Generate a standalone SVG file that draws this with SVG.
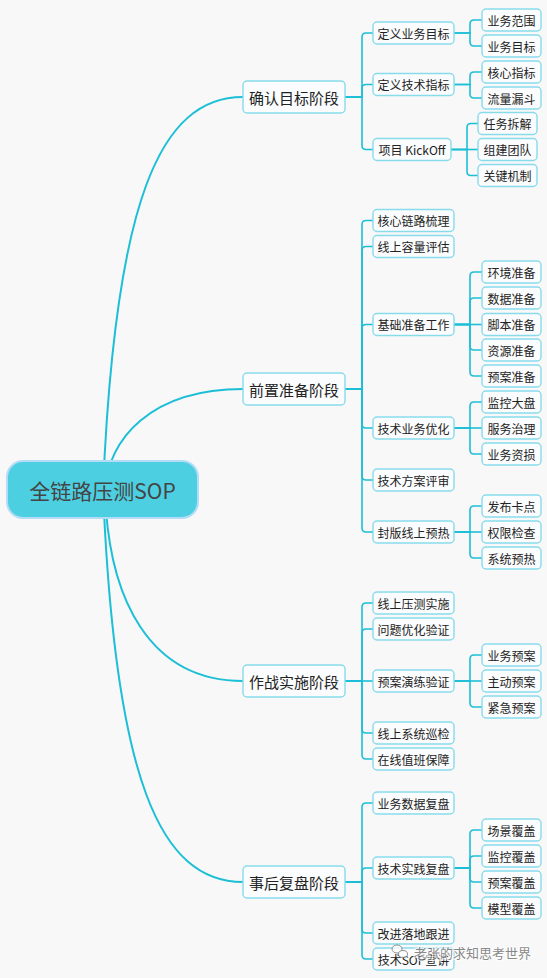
<svg xmlns="http://www.w3.org/2000/svg" width="547" height="978" viewBox="0 0 547 978">
<style>
.bg{fill:#f8f8f8}
.c{fill:none;stroke:#1cbfd6;stroke-width:1.6;stroke-linejoin:round}
.cr{fill:none;stroke:#1cbfd6;stroke-width:2}
.n1 rect,.n2 rect,.n3 rect{fill:#fbfcfd;stroke:#88dbeb;stroke-width:1.4}
.n1 text,.n2 text,.n3 text{font-family:"Noto Sans CJK SC","Noto Sans",sans-serif;fill:#222;text-anchor:middle;dominant-baseline:central}
.n1 text{font-size:15px}
.n2 text,.n3 text{font-size:12px}
.root rect{fill:#4dcfe2;stroke:#b5dcf6;stroke-width:2}
.root text{font-family:"Noto Sans CJK SC","Noto Sans",sans-serif;font-size:21px;fill:#444;text-anchor:middle;dominant-baseline:central}
.wm{font-family:"Noto Sans CJK SC",sans-serif;font-size:13px;fill:#555;stroke:#fff;stroke-width:2.5;paint-order:stroke;opacity:0.85}
</style>
<rect class="bg" x="0" y="0" width="547" height="978"/>
<g id="connectors">
<path class="cr" d="M103 490C115 200 160 97 243 97"/>
<path class="cr" d="M105 490C108 440 150 389 243 389"/>
<path class="cr" d="M105 490C108 600 150 681 243 681"/>
<path class="cr" d="M103 490C115 780 160 882 243 882"/>
<path class="c" d="M345 97H362V37Q362 33 366 33H373"/>
<path class="c" d="M345 97H362V88.5Q362 84.5 366 84.5H373"/>
<path class="c" d="M345 97H362V145.5Q362 149.5 366 149.5H373"/>
<path class="c" d="M345 389H362V224.5Q362 220.5 366 220.5H373"/>
<path class="c" d="M345 389H362V250.5Q362 246.5 366 246.5H373"/>
<path class="c" d="M345 389H362V328.5Q362 324.5 366 324.5H373"/>
<path class="c" d="M345 389H362V424Q362 428 366 428H373"/>
<path class="c" d="M345 389H362V476Q362 480 366 480H373"/>
<path class="c" d="M345 389H362V528Q362 532 366 532H373"/>
<path class="c" d="M345 681H362V607Q362 603 366 603H373"/>
<path class="c" d="M345 681H362V633Q362 629 366 629H373"/>
<path class="c" d="M345 681H373"/>
<path class="c" d="M345 681H362V729Q362 733 366 733H373"/>
<path class="c" d="M345 681H362V755Q362 759 366 759H373"/>
<path class="c" d="M345 882H362V807Q362 803 366 803H373"/>
<path class="c" d="M345 882H362V872Q362 868 366 868H373"/>
<path class="c" d="M345 882H362V929Q362 933 366 933H373"/>
<path class="c" d="M345 882H362V955Q362 959 366 959H373"/>
<path class="c" d="M454 33H470V24Q470 20 474 20H482"/>
<path class="c" d="M454 33H470V42Q470 46 474 46H482"/>
<path class="c" d="M454 84.5H470V76Q470 72 474 72H482"/>
<path class="c" d="M454 84.5H470V94Q470 98 474 98H482"/>
<path class="c" d="M451 149.5H467V127.5Q467 123.5 471 123.5H478"/>
<path class="c" d="M451 149.5H478"/>
<path class="c" d="M451 149.5H467V171.5Q467 175.5 471 175.5H478"/>
<path class="c" d="M454 324.5H470V276Q470 272 474 272H482"/>
<path class="c" d="M454 324.5H470V302Q470 298 474 298H482"/>
<path class="c" d="M454 324.5H482"/>
<path class="c" d="M454 324.5H470V346Q470 350 474 350H482"/>
<path class="c" d="M454 324.5H470V372Q470 376 474 376H482"/>
<path class="c" d="M454 428H470V406Q470 402 474 402H482"/>
<path class="c" d="M454 428H482"/>
<path class="c" d="M454 428H470V450Q470 454 474 454H482"/>
<path class="c" d="M454 532H470V510Q470 506 474 506H482"/>
<path class="c" d="M454 532H482"/>
<path class="c" d="M454 532H470V554Q470 558 474 558H482"/>
<path class="c" d="M454 681H470V659Q470 655 474 655H482"/>
<path class="c" d="M454 681H482"/>
<path class="c" d="M454 681H470V703Q470 707 474 707H482"/>
<path class="c" d="M454 868H470V834Q470 830 474 830H482"/>
<path class="c" d="M454 868H470V860Q470 856 474 856H482"/>
<path class="c" d="M454 868H470V878Q470 882 474 882H482"/>
<path class="c" d="M454 868H470V904Q470 908 474 908H482"/>
</g>
<g id="root" class="root"><rect x="7" y="461" width="191" height="57" rx="16"/><text x="102.5" y="490">全链路压测SOP</text></g>
<g id="p1" class="n1"><rect x="243" y="81" width="102" height="32" rx="4"/><text x="294" y="97">确认目标阶段</text></g>
<g id="p2" class="n1"><rect x="243" y="373" width="102" height="32" rx="4"/><text x="294" y="389">前置准备阶段</text></g>
<g id="p3" class="n1"><rect x="243" y="665" width="102" height="32" rx="4"/><text x="294" y="681">作战实施阶段</text></g>
<g id="p4" class="n1"><rect x="243" y="866" width="102" height="32" rx="4"/><text x="294" y="882">事后复盘阶段</text></g>
<g id="a1" class="n2"><rect x="373" y="22" width="81" height="22" rx="4"/><text x="413.5" y="33">定义业务目标</text></g>
<g id="a2" class="n2"><rect x="373" y="73.5" width="81" height="22" rx="4"/><text x="413.5" y="84.5">定义技术指标</text></g>
<g id="a3" class="n2"><rect x="373" y="138.5" width="78" height="22" rx="4"/><text x="412" y="149.5">项目 KickOff</text></g>
<g id="a1a" class="n3"><rect x="482" y="9" width="59" height="22" rx="4"/><text x="511.5" y="20">业务范围</text></g>
<g id="a1b" class="n3"><rect x="482" y="35" width="59" height="22" rx="4"/><text x="511.5" y="46">业务目标</text></g>
<g id="a2a" class="n3"><rect x="482" y="61" width="59" height="22" rx="4"/><text x="511.5" y="72">核心指标</text></g>
<g id="a2b" class="n3"><rect x="482" y="87" width="59" height="22" rx="4"/><text x="511.5" y="98">流量漏斗</text></g>
<g id="a3a" class="n3"><rect x="478" y="112.5" width="59" height="22" rx="4"/><text x="507.5" y="123.5">任务拆解</text></g>
<g id="a3b" class="n3"><rect x="478" y="138.5" width="59" height="22" rx="4"/><text x="507.5" y="149.5">组建团队</text></g>
<g id="a3c" class="n3"><rect x="478" y="164.5" width="59" height="22" rx="4"/><text x="507.5" y="175.5">关键机制</text></g>
<g id="b1" class="n2"><rect x="373" y="209.5" width="81" height="22" rx="4"/><text x="413.5" y="220.5">核心链路梳理</text></g>
<g id="b2" class="n2"><rect x="373" y="235.5" width="81" height="22" rx="4"/><text x="413.5" y="246.5">线上容量评估</text></g>
<g id="b3" class="n2"><rect x="373" y="313.5" width="81" height="22" rx="4"/><text x="413.5" y="324.5">基础准备工作</text></g>
<g id="b3a" class="n3"><rect x="482" y="261" width="59" height="22" rx="4"/><text x="511.5" y="272">环境准备</text></g>
<g id="b3b" class="n3"><rect x="482" y="287" width="59" height="22" rx="4"/><text x="511.5" y="298">数据准备</text></g>
<g id="b3c" class="n3"><rect x="482" y="313.5" width="59" height="22" rx="4"/><text x="511.5" y="324.5">脚本准备</text></g>
<g id="b3d" class="n3"><rect x="482" y="339" width="59" height="22" rx="4"/><text x="511.5" y="350">资源准备</text></g>
<g id="b3e" class="n3"><rect x="482" y="365" width="59" height="22" rx="4"/><text x="511.5" y="376">预案准备</text></g>
<g id="b4" class="n2"><rect x="373" y="417" width="81" height="22" rx="4"/><text x="413.5" y="428">技术业务优化</text></g>
<g id="b4a" class="n3"><rect x="482" y="391" width="59" height="22" rx="4"/><text x="511.5" y="402">监控大盘</text></g>
<g id="b4b" class="n3"><rect x="482" y="417" width="59" height="22" rx="4"/><text x="511.5" y="428">服务治理</text></g>
<g id="b4c" class="n3"><rect x="482" y="443" width="59" height="22" rx="4"/><text x="511.5" y="454">业务资损</text></g>
<g id="b5" class="n2"><rect x="373" y="469" width="81" height="22" rx="4"/><text x="413.5" y="480">技术方案评审</text></g>
<g id="b6" class="n2"><rect x="373" y="521" width="81" height="22" rx="4"/><text x="413.5" y="532">封版线上预热</text></g>
<g id="b6a" class="n3"><rect x="482" y="495" width="59" height="22" rx="4"/><text x="511.5" y="506">发布卡点</text></g>
<g id="b6b" class="n3"><rect x="482" y="521" width="59" height="22" rx="4"/><text x="511.5" y="532">权限检查</text></g>
<g id="b6c" class="n3"><rect x="482" y="547" width="59" height="22" rx="4"/><text x="511.5" y="558">系统预热</text></g>
<g id="c1" class="n2"><rect x="373" y="592" width="81" height="22" rx="4"/><text x="413.5" y="603">线上压测实施</text></g>
<g id="c2" class="n2"><rect x="373" y="618" width="81" height="22" rx="4"/><text x="413.5" y="629">问题优化验证</text></g>
<g id="c3" class="n2"><rect x="373" y="670" width="81" height="22" rx="4"/><text x="413.5" y="681">预案演练验证</text></g>
<g id="c3a" class="n3"><rect x="482" y="644" width="59" height="22" rx="4"/><text x="511.5" y="655">业务预案</text></g>
<g id="c3b" class="n3"><rect x="482" y="670" width="59" height="22" rx="4"/><text x="511.5" y="681">主动预案</text></g>
<g id="c3c" class="n3"><rect x="482" y="696" width="59" height="22" rx="4"/><text x="511.5" y="707">紧急预案</text></g>
<g id="c4" class="n2"><rect x="373" y="722" width="81" height="22" rx="4"/><text x="413.5" y="733">线上系统巡检</text></g>
<g id="c5" class="n2"><rect x="373" y="748" width="81" height="22" rx="4"/><text x="413.5" y="759">在线值班保障</text></g>
<g id="d1" class="n2"><rect x="373" y="792" width="81" height="22" rx="4"/><text x="413.5" y="803">业务数据复盘</text></g>
<g id="d2" class="n2"><rect x="373" y="857" width="81" height="22" rx="4"/><text x="413.5" y="868">技术实践复盘</text></g>
<g id="d2a" class="n3"><rect x="482" y="819" width="59" height="22" rx="4"/><text x="511.5" y="830">场景覆盖</text></g>
<g id="d2b" class="n3"><rect x="482" y="845" width="59" height="22" rx="4"/><text x="511.5" y="856">监控覆盖</text></g>
<g id="d2c" class="n3"><rect x="482" y="871" width="59" height="22" rx="4"/><text x="511.5" y="882">预案覆盖</text></g>
<g id="d2d" class="n3"><rect x="482" y="897" width="59" height="22" rx="4"/><text x="511.5" y="908">模型覆盖</text></g>
<g id="d3" class="n2"><rect x="373" y="922" width="81" height="22" rx="4"/><text x="413.5" y="933">改进落地跟进</text></g>
<g id="d4" class="n2"><rect x="373" y="948" width="81" height="22" rx="4"/><text x="413.5" y="959">技术SOP宣讲</text></g>
<g id="watermark" opacity="0.8">
<ellipse cx="397" cy="949" rx="5" ry="4" fill="#fff" stroke="#777" stroke-width="1"/>
<ellipse cx="403" cy="954" rx="4.5" ry="3.5" fill="#fff" stroke="#777" stroke-width="1"/>
<text class="wm" x="414" y="958">老张的求知思考世界</text>
</g>
</svg>
